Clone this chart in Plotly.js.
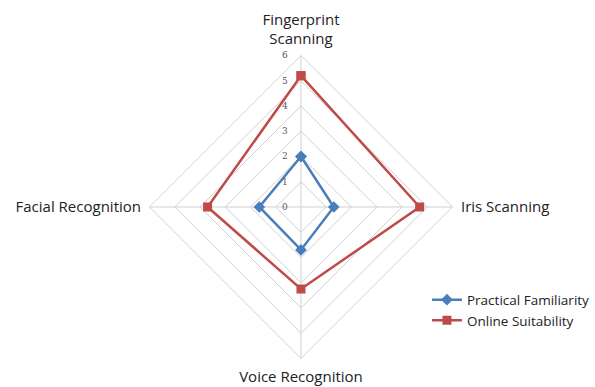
<!DOCTYPE html>
<html>
<head>
<meta charset="utf-8">
<script src="https://cdn.plot.ly/plotly-3.0.1.min.js"></script>
<style>
  html, body { margin: 0; padding: 0; background: #fff; }
  #chart { width: 595px; height: 387px; }
</style>
</head>
<body>
<div id="chart"></div>
<script>
// categories, clockwise from the top
const categorias = ['Fingerprint<br>Scanning', 'Iris Scanning', 'Voice Recognition', 'Facial Recognition'];
const familiaridad = [2, 1.3, 1.7, 1.65];
const idoneidad = [5.2, 4.7, 3.25, 3.7];
const nombres = ['Practical Familiarity', 'Online Suitability'];

// close the polygon
const cerrar = arr => arr.concat(arr.slice(0, 1));

const serie = (nombre, valores, color, simbolo) => ({
    type: 'scatterpolar',
    mode: 'lines+markers',
    name: nombre,
    r: cerrar(valores),
    theta: cerrar(categorias),
    line: { color: color, width: 2.5 },
    marker: { symbol: simbolo, size: 9, color: color },
    cliponaxis: false
});

const layout = {
    width: 595,
    height: 387,
    margin: { l: 0, r: 0, t: 0, b: 0 },
    paper_bgcolor: '#fff',
    font: { family: 'Open Sans, Liberation Sans, sans-serif', size: 14, color: '#222' },
    showlegend: true,
    legend: {
        x: 0.72, y: 0.265, xanchor: 'left', yanchor: 'top',
        font: { size: 13.5, color: '#222' },
        tracegroupgap: 4
    },
    polar: {
        domain: { x: [0.2521, 0.763], y: [0.0724, 0.8579] },
        gridshape: 'linear',
        bgcolor: '#fff',
        radialaxis: {
            range: [0, 6],
            dtick: 1,
            angle: 90,
            side: 'counterclockwise',
            tickangle: 90,
            // relleno transparente: deja el número a la izquierda del eje
            ticksuffix: '<span style="color:rgba(0,0,0,0)">00</span>',
            showline: false,
            ticks: '',
            gridcolor: '#d0d0d0',
            tickfont: { family: 'DejaVu Serif, serif', size: 9, color: '#555' }
        },
        angularaxis: {
            direction: 'clockwise',
            rotation: 90,
            ticks: 'outside',
            ticklen: 5,
            tickcolor: 'rgba(0,0,0,0)',
            linecolor: '#d0d0d0',
            gridcolor: '#d0d0d0',
            tickfont: { size: 15, color: '#222' }
        }
    }
};

Plotly.newPlot('chart', [
    serie(nombres[0], familiaridad, '#4a7ebb', 'diamond'),
    serie(nombres[1], idoneidad, '#be4b48', 'square')
], layout, { displayModeBar: false, staticPlot: true });
</script>
</body>
</html>
